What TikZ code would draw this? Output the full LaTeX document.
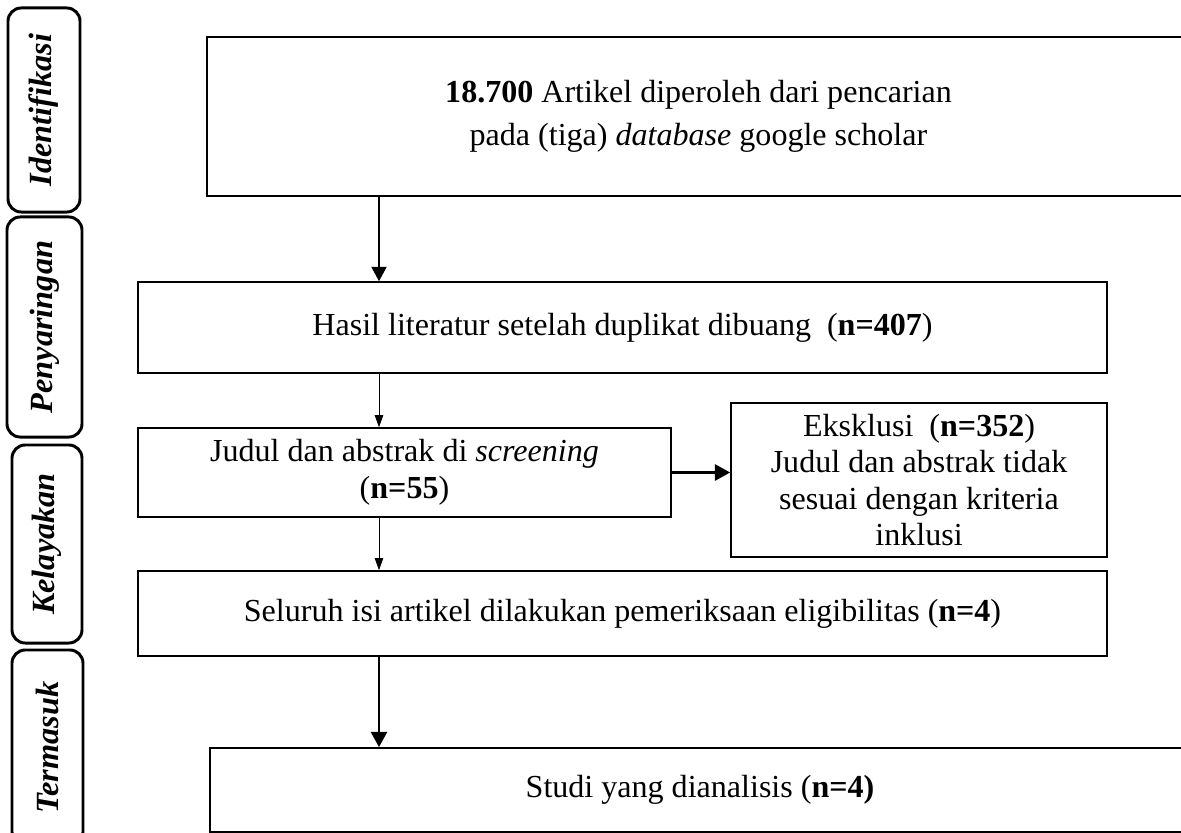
\documentclass[tikz,border=0pt]{standalone}
\usepackage{fontspec}
\setmainfont{Liberation Serif}
\usetikzlibrary{arrows.meta}

\begin{document}
\begin{tikzpicture}[x=0.025cm,y=-0.025cm,
   every node/.style={font=\fontsize{22.8}{26}\selectfont},
   kotak/.style={draw,line width=1.1pt,inner sep=0pt,align=center},
   tahap/.style={draw,line width=2.1pt,rounded corners=0.33cm,rotate=90,inner sep=0pt,
      font=\fontsize{23}{28}\selectfont\bfseries\itshape},
   panah/.style={-{Triangle[length=0.36cm,width=0.38cm]},line width=0.8pt},
   panahkecil/.style={-{Triangle[length=0.3cm,width=0.21cm]},line width=0.7pt},
   panahtebal/.style={-{Triangle[length=0.38cm,width=0.4cm]},line width=1.9pt}]
   \useasboundingbox (0,0) rectangle (1181,833);

   % tahapan di sisi kiri
   \node[tahap,minimum width=5.1cm,minimum height=1.8cm] (identifikasi) at (44,110) {Identifikasi};
   \node[tahap,minimum width=5.5cm,minimum height=1.875cm] (penyaringan) at (44.5,327) {Penyaringan};
   \node[tahap,minimum width=4.95cm,minimum height=1.75cm] (kelayakan) at (47,544) {Kelayakan};
   \node[tahap,minimum width=4.875cm,minimum height=1.775cm] (termasuk) at (47.5,747.5) {Termasuk};

   % kotak alur
   \node[kotak,line width=1.3pt,minimum width=24.575cm,minimum height=3.975cm] (cari) at (698.5,116.5)
      {\textbf{18.700} Artikel diperoleh dari pencarian\\[0.16cm] pada (tiga) \textit{database} google scholar};
   \node[kotak,minimum width=24.225cm,minimum height=2.275cm] (hasil) at (622.5,327.5)
      {Hasil literatur setelah duplikat dibuang\ \ (\textbf{n=407})};
   \node[kotak,minimum width=13.325cm,minimum height=2.225cm] (judul) at (404.5,472.5)
      {Judul dan abstrak di \textit{screening}\\ (\textbf{n=55})};
   \node[kotak,minimum width=9.4cm,minimum height=3.85cm] (eksklusi) at (919,480)
      {Eksklusi\ \ (\textbf{n=352})\\ Judul dan abstrak tidak\\ sesuai dengan kriteria\\ inklusi};
   \node[kotak,minimum width=24.225cm,minimum height=2.125cm] (seluruh) at (622.5,613.5)
      {Seluruh isi artikel dilakukan pemeriksaan eligibilitas (\textbf{n=4})};
   \node[kotak,line width=1.3pt,minimum width=24.5cm,minimum height=2.1cm] (studi) at (700,790)
      {Studi yang dianalisis (\textbf{n=4)}};

   % panah
   \coordinate (jalur) at (379,0);
   \draw[panah] (cari.south -| jalur) -- (hasil.north -| jalur);
   \draw[panahkecil] (hasil.south -| jalur) -- (judul.north -| jalur);
   \draw[panahtebal] (judul.east) -- (eksklusi.west |- judul.east);
   \draw[panahkecil] (judul.south -| jalur) -- (seluruh.north -| jalur);
   \draw[panahtebal] (seluruh.south -| jalur) -- (studi.north -| jalur);
\end{tikzpicture}
\end{document}
